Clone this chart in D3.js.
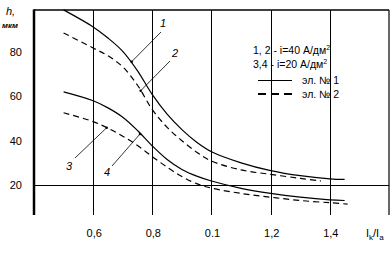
<!DOCTYPE html>
<html>
<head>
<meta charset="utf-8">
<script src="https://cdn.jsdelivr.net/npm/d3@7"></script>
<style>
  body { margin: 0; background: #fff; }
  svg { display: block; font-family: "Liberation Sans", Arial, sans-serif; }
</style>
</head>
<body>
<div id="main"></div>
<script>
// values: [Ik/Ia, h (мкм)]
var curve1 = [[0.5, 99], [0.6, 91.3], [0.65, 86.3], [0.7, 80.3], [0.75, 71.5], [0.8, 60.8], [0.85, 52], [0.9, 45], [0.95, 39.3], [1.0, 35], [1.1, 30], [1.2, 26.5], [1.3, 24.2], [1.4, 22.8], [1.45, 22.5]];
var curve2 = [[0.5, 88.6], [0.6, 81.8], [0.65, 78.3], [0.7, 73.3], [0.75, 65], [0.8, 54], [0.85, 46], [0.9, 40], [0.95, 34.8], [1.0, 30.8], [1.1, 26.8], [1.2, 24.8], [1.3, 23], [1.37, 21.8]];
var curve3 = [[0.5, 62], [0.6, 58], [0.65, 54.8], [0.7, 50.6], [0.75, 44.6], [0.8, 37.6], [0.85, 31.5], [0.9, 27], [0.95, 24], [1.0, 21.8], [1.1, 18.5], [1.2, 16.2], [1.3, 14.5], [1.4, 13.3], [1.45, 13]];
var curve4 = [[0.5, 52.6], [0.6, 48.6], [0.65, 45.6], [0.7, 42], [0.75, 37.8], [0.8, 32.8], [0.85, 28], [0.9, 23.8], [0.95, 20.6], [1.0, 18.6], [1.1, 16.2], [1.2, 14.5], [1.3, 13], [1.4, 12], [1.46, 11.4]];

var xTicks = [0.6, 0.8, 1.0, 1.2, 1.4];
var xTickLabels = ["0,6", "0,8", "0.1", "1,2", "1,4"];
var yTicks = [80, 60, 40, 20];

var ctx = {
    w: 392,
    h: 261,
    left: 34,
    right: 389,
    top: 10,
    bottom: 215,
};

var svg = d3.select("#main").append("svg")
    .attr("width", ctx.w)
    .attr("height", ctx.h);

var x = d3.scaleLinear().domain([0.4, 1.6]).range([ctx.left, ctx.right]);
var y = d3.scaleLinear().domain([20, 80]).range([185, 52]);

// frame: top and right borders
svg.append("line")
    .attr("x1", ctx.left).attr("x2", ctx.right)
    .attr("y1", ctx.top).attr("y2", ctx.top)
    .attr("stroke", "#000").attr("stroke-width", 1.3);
svg.append("line")
    .attr("x1", ctx.right).attr("x2", ctx.right)
    .attr("y1", ctx.top).attr("y2", ctx.bottom)
    .attr("stroke", "#000").attr("stroke-width", 1.2);

// vertical grid lines at the x ticks
svg.selectAll(".vgrid")
    .data(xTicks)
    .enter()
    .append("line")
    .attr("class", "vgrid")
    .attr("x1", function (d) { return Math.round(x(d)) + 0.5; })
    .attr("x2", function (d) { return Math.round(x(d)) + 0.5; })
    .attr("y1", ctx.top)
    .attr("y2", ctx.bottom)
    .attr("stroke", "#000")
    .attr("stroke-width", 1);

// horizontal line at 20
svg.append("line")
    .attr("x1", ctx.left).attr("x2", ctx.right)
    .attr("y1", Math.round(y(20)) + 0.5).attr("y2", Math.round(y(20)) + 0.5)
    .attr("stroke", "#000").attr("stroke-width", 1);

// thick left axis
svg.append("line")
    .attr("x1", ctx.left).attr("x2", ctx.left)
    .attr("y1", ctx.top - 0.6).attr("y2", ctx.bottom)
    .attr("stroke", "#000").attr("stroke-width", 2.5);

// y tick labels
svg.selectAll(".ylab")
    .data(yTicks)
    .enter()
    .append("text")
    .attr("x", 22)
    .attr("y", function (d) { return y(d) + 4; })
    .attr("text-anchor", "end")
    .style("font-size", "11px")
    .text(function (d) { return d; });

// x tick labels
svg.selectAll(".xlab")
    .data(xTicks)
    .enter()
    .append("text")
    .attr("x", function (d) { return x(d) + 1; })
    .attr("y", 237)
    .attr("text-anchor", "middle")
    .style("font-size", "11px")
    .text(function (d, i) { return xTickLabels[i]; });

// axis titles
svg.append("text")
    .attr("x", 6).attr("y", 15)
    .style("font-size", "11px").style("font-style", "italic")
    .text("h,");
svg.append("text")
    .attr("x", 2).attr("y", 28)
    .style("font-size", "8px").style("font-weight", "bold").style("font-style", "italic")
    .text("мкм");
var xt = svg.append("text")
    .attr("x", 366).attr("y", 237)
    .style("font-size", "11px");
xt.append("tspan").text("I");
xt.append("tspan").attr("dy", 3).style("font-size", "8px").text("k");
xt.append("tspan").attr("dy", -3).text("/I");
xt.append("tspan").attr("dy", 3).style("font-size", "8px").text("a");

// curves
var line = d3.line()
    .x(function (d) { return x(d[0]); })
    .y(function (d) { return y(d[1]); })
    .curve(d3.curveCatmullRom.alpha(0.5));

var series = [
    { data: curve1, dash: null },
    { data: curve2, dash: "6,4" },
    { data: curve3, dash: null },
    { data: curve4, dash: "6,4" },
];
svg.selectAll(".curve")
    .data(series)
    .enter()
    .append("path")
    .attr("class", "curve")
    .attr("d", function (d) { return line(d.data); })
    .attr("fill", "none")
    .attr("stroke", "#000")
    .attr("stroke-width", 1.2)
    .attr("stroke-dasharray", function (d) { return d.dash; });

// curve number labels with leader lines
var callouts = [
    { t: "1", tx: 160, ty: 27, x1: 161, y1: 32, x2: 131.7, y2: 61.7 },
    { t: "2", tx: 172, ty: 57, x1: 170, y1: 61, x2: 140.7, y2: 90.7 },
    { t: "3", tx: 66, ty: 170, x1: 75, y1: 158, x2: 106.7, y2: 127.7 },
    { t: "4", tx: 104, ty: 176, x1: 112, y1: 166, x2: 140, y2: 134 },
];
svg.selectAll(".lead")
    .data(callouts)
    .enter()
    .append("line")
    .attr("x1", function (d) { return d.x1; })
    .attr("y1", function (d) { return d.y1; })
    .attr("x2", function (d) { return d.x2; })
    .attr("y2", function (d) { return d.y2; })
    .attr("stroke", "#000")
    .attr("stroke-width", 0.8);
svg.selectAll(".dot")
    .data(callouts)
    .enter()
    .append("circle")
    .attr("cx", function (d) { return d.x2; })
    .attr("cy", function (d) { return d.y2; })
    .attr("r", 1.3)
    .attr("fill", "#000");
svg.selectAll(".num")
    .data(callouts)
    .enter()
    .append("text")
    .attr("x", function (d) { return d.tx; })
    .attr("y", function (d) { return d.ty; })
    .style("font-size", "11px")
    .style("font-style", "italic")
    .text(function (d) { return d.t; });

// legend
var leg1 = svg.append("text").attr("x", 253).attr("y", 54).style("font-size", "10.5px");
leg1.append("tspan").text("1, 2 - i=40 А/дм");
leg1.append("tspan").attr("dy", -4).style("font-size", "7px").text("2");
var leg2 = svg.append("text").attr("x", 253).attr("y", 68).style("font-size", "10.5px");
leg2.append("tspan").text("3,4 -  i=20 А/дм");
leg2.append("tspan").attr("dy", -4).style("font-size", "7px").text("2");

svg.append("line")
    .attr("x1", 258).attr("x2", 292).attr("y1", 80.5).attr("y2", 80.5)
    .attr("stroke", "#000").attr("stroke-width", 1);
svg.append("text").attr("x", 302).attr("y", 84).style("font-size", "10.5px").text("эл. № 1");
svg.append("line")
    .attr("x1", 258).attr("x2", 292).attr("y1", 94).attr("y2", 94)
    .attr("stroke", "#000").attr("stroke-width", 2.2)
    .attr("stroke-dasharray", "8,5");
svg.append("text").attr("x", 302).attr("y", 98).style("font-size", "10.5px").text("эл. № 2");
</script>
</body>
</html>
